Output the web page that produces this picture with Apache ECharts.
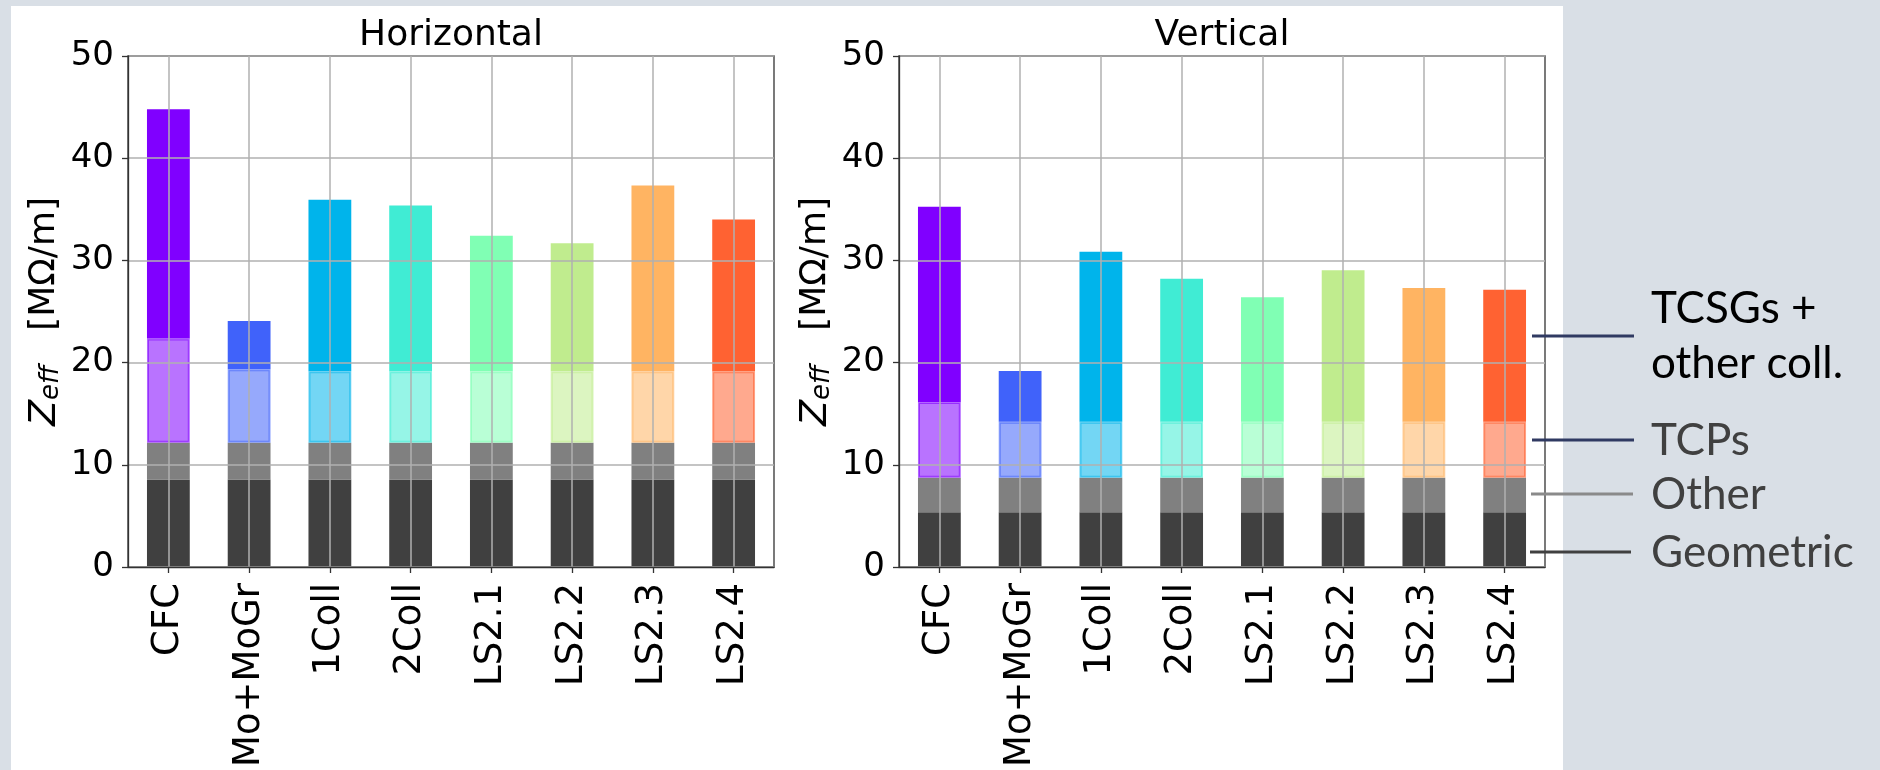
<!DOCTYPE html>
<html>
<head>
<meta charset="utf-8">
<script src="https://cdn.jsdelivr.net/npm/echarts@6/dist/echarts.min.js"></script>
<style>
  html, body { margin: 0; padding: 0; background: #d9dfe6; }
  #panel { position: absolute; left: 11px; top: 6px; width: 1552px; height: 764px; background: #ffffff; }
  #chart { position: absolute; left: 0; top: 0; width: 1880px; height: 770px; }
</style>
</head>
<body>
<div id="panel"></div>
<div id="chart"></div>
<script>
// Collimator configurations
const categories = ['CFC', 'Mo+MoGr', '1Coll', '2Coll', 'LS2.1', 'LS2.2', 'LS2.3', 'LS2.4'];
const planeTitles = ['Horizontal', 'Vertical'];
const yTicks = [0, 10, 20, 30, 40, 50];

// Contributions to Z_eff [MΩ/m], stacked from the bottom (segment heights)
const geometricH = [8.55, 8.55, 8.55, 8.55, 8.55, 8.55, 8.55, 8.55];
const otherH     = [3.60, 3.60, 3.60, 3.60, 3.60, 3.60, 3.60, 3.60];
const tcpH       = [10.20, 7.20, 7.00, 7.00, 7.00, 7.00, 7.00, 7.00];
const tcsgH      = [22.45, 4.72, 16.78, 16.23, 13.25, 12.53, 18.18, 14.84];

const geometricV = [5.36, 5.36, 5.36, 5.36, 5.36, 5.36, 5.36, 5.36];
const otherV     = [3.38, 3.38, 3.38, 3.38, 3.38, 3.38, 3.38, 3.38];
const tcpV       = [7.41, 5.46, 5.46, 5.46, 5.46, 5.46, 5.46, 5.46];
const tcsgV      = [19.10, 4.97, 16.64, 14.00, 12.20, 14.84, 13.10, 12.93];

// rainbow colormap, one colour per configuration
const palette = ['#8000ff', '#4062fa', '#00b4eb', '#40ecd4', '#80ffb4', '#c0ec8e', '#ffb462', '#ff6232'];

const FONT = 'DejaVu Sans';
const AXIS_COLOR = '#333333';
const GRID_COLOR = '#b0b0b0';

function rgba(hex, a) {
  const n = parseInt(hex.slice(1), 16);
  return 'rgba(' + ((n >> 16) & 255) + ',' + ((n >> 8) & 255) + ',' + (n & 255) + ',' + a + ')';
}

const grids = [
  { left: 128, top: 56, width: 646, height: 513 },
  { left: 899, top: 56, width: 646, height: 513 }
];

function xAxisFor(i) {
  return {
    type: 'category', gridIndex: i, data: categories, z: 5,
    axisLine: { show: true, lineStyle: { color: AXIS_COLOR, width: 1.3 } },
    axisTick: { show: true, alignWithLabel: true, length: 6, lineStyle: { color: AXIS_COLOR, width: 1.3 } },
    axisLabel: { rotate: 90, interval: 0, margin: 16, fontSize: 37, color: '#000', fontFamily: FONT },
    splitLine: { show: true, alignWithLabel: true, interval: 0, lineStyle: { color: GRID_COLOR, width: 1.5 } }
  };
}

function yAxisFor(i) {
  return {
    type: 'value', gridIndex: i, min: yTicks[0], max: yTicks[yTicks.length - 1], interval: 10, z: 5,
    axisLine: { show: true, lineStyle: { color: AXIS_COLOR, width: 1.3 } },
    axisTick: { show: true, length: 6, lineStyle: { color: AXIS_COLOR, width: 1.3 } },
    axisLabel: { margin: 14, fontSize: 34, color: '#000', fontFamily: FONT },
    splitLine: { show: true, lineStyle: { color: GRID_COLOR, width: 1.5 } },
    name: '{z|Z}{s|eff}{u|   [MΩ/m]}',
    nameLocation: 'middle', nameRotate: 90, nameGap: 64,
    nameTextStyle: {
      color: '#000', fontFamily: FONT, fontSize: 36,
      rich: {
        z: { fontStyle: 'italic', fontSize: 38, fontFamily: FONT, color: '#000' },
        s: { fontStyle: 'italic', fontSize: 26, fontFamily: FONT, color: '#000', verticalAlign: 'bottom' },
        u: { fontSize: 36, fontFamily: FONT, color: '#000' }
      }
    }
  };
}

function stackFor(i, geo, oth, tcp, tcsg) {
  const base = { type: 'bar', xAxisIndex: i, yAxisIndex: i, stack: 'zeff' + i, barWidth: '53%', silent: true, z: 2 };
  return [
    Object.assign({}, base, { name: 'Geometric', data: geo, itemStyle: { color: '#404040' } }),
    Object.assign({}, base, { name: 'Other', data: oth, itemStyle: { color: '#808080' } }),
    Object.assign({}, base, {
      name: 'TCPs',
      data: tcp.map((v, k) => ({
        value: v,
        itemStyle: { color: rgba(palette[k], 0.55), borderColor: rgba(palette[k], 0.6), borderWidth: 2 }
      }))
    }),
    Object.assign({}, base, {
      name: 'TCSGs + other coll.',
      data: tcsg.map((v, k) => ({ value: v, itemStyle: { color: palette[k] } }))
    })
  ];
}

// call-out lines and labels naming the stacked layers
const calloutLines = [
  { x1: 1532, x2: 1634, y: 336, color: '#303a62' },
  { x1: 1532, x2: 1634, y: 440, color: '#303a62' },
  { x1: 1531, x2: 1633, y: 494, color: '#8a8a8a' },
  { x1: 1530, x2: 1631, y: 552, color: '#404040' }
];
const calloutTexts = [
  { text: 'TCSGs +', y: 309, color: '#000000' },
  { text: 'other coll.', y: 364, color: '#000000' },
  { text: 'TCPs', y: 441, color: '#404040' },
  { text: 'Other', y: 495, color: '#404040' },
  { text: 'Geometric', y: 553, color: '#404040' }
];

const graphic = [];
calloutLines.forEach(l => graphic.push({
  type: 'line', silent: true, z: 10,
  shape: { x1: l.x1, y1: l.y, x2: l.x2, y2: l.y },
  style: { stroke: l.color, lineWidth: 3 }
}));
calloutTexts.forEach(t => graphic.push({
  type: 'text', silent: true, z: 10, x: 1651, y: t.y,
  style: { text: t.text, fill: t.color, font: '44px Lato', verticalAlign: 'middle' }
}));

const chart = echarts.init(document.getElementById('chart'), null, { renderer: 'canvas' });
chart.setOption({
  animation: false,
  backgroundColor: 'transparent',
  textStyle: { fontFamily: FONT },
  title: planeTitles.map((t, i) => ({
    text: t, left: grids[i].left + grids[i].width / 2, top: 18, textAlign: 'center', padding: 0,
    textStyle: { fontSize: 36, fontWeight: 'normal', color: '#000', fontFamily: FONT }
  })),
  grid: grids.map(g => Object.assign({ show: true, borderColor: AXIS_COLOR, borderWidth: 1.3, backgroundColor: 'transparent' }, g)),
  xAxis: [xAxisFor(0), xAxisFor(1)],
  yAxis: [yAxisFor(0), yAxisFor(1)],
  series: [].concat(
    stackFor(0, geometricH, otherH, tcpH, tcsgH),
    stackFor(1, geometricV, otherV, tcpV, tcsgV)
  ),
  graphic: graphic
});
</script>
</body>
</html>
